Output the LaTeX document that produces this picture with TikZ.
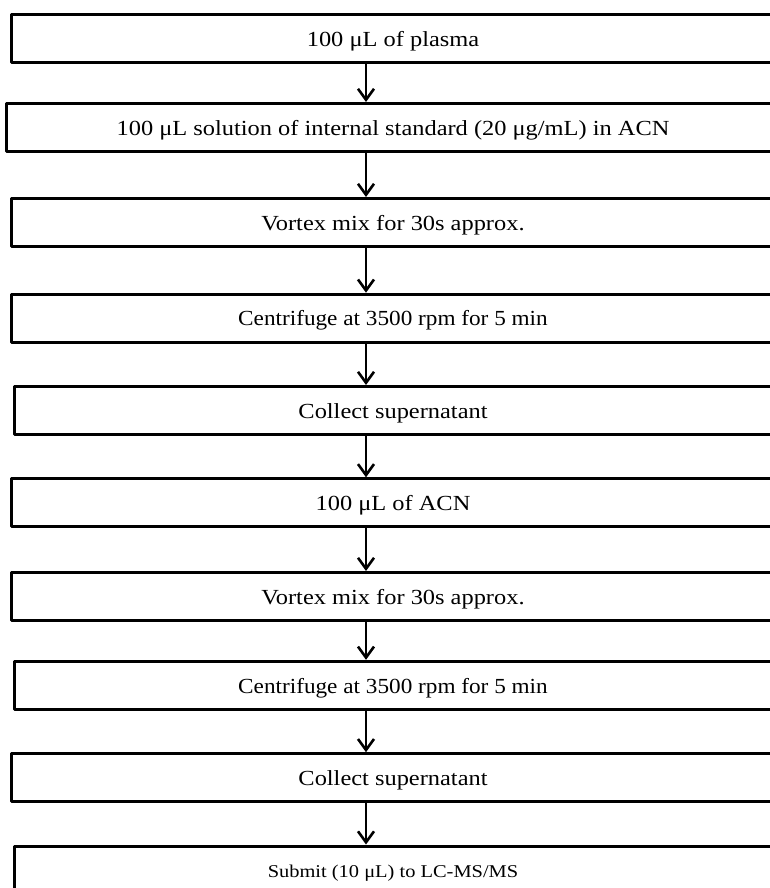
\documentclass[tikz,border=0pt]{standalone}
\usepackage{fontspec}
\usepackage{graphicx}
\setmainfont{Liberation Serif}
\usetikzlibrary{arrows.meta}

% widened step label
\newcommand{\steptext}[2][1.135]{\scalebox{#1}[1]{#2}}

\tikzset{
  stepbox/.style={draw, line width=3pt, line join=round, minimum height=48pt,
    inner sep=0pt, text height=15.4pt, text depth=0pt,
    font=\fontsize{21.5}{23}\selectfont},
  smallstep/.style={stepbox, text height=14pt, font=\fontsize{18}{20}\selectfont},
  flowarrow/.style={line width=2.6pt, -{Straight Barb[length=11pt,width=16pt]}}
}

\begin{document}
\begin{tikzpicture}[x=1pt, y=-1pt]
  \path[use as bounding box] (0,0) rectangle (770,888);
  \clip (0,0) rectangle (770,888);

  % process steps (boxes run past the right edge of the sheet)
  \node[stepbox, minimum width=763.4pt] (b1)  at (393,38.7)  {\steptext{100 μL of plasma}};
  \node[stepbox, minimum width=773.4pt] (b2)  at (393,127.5) {\steptext{100 μL solution of internal standard (20 μg/mL) in ACN}};
  \node[stepbox, minimum width=762.6pt] (b3)  at (393,222.5) {\steptext{Vortex mix for 30s approx.}};
  \node[stepbox, minimum width=762.6pt] (b4)  at (393,318.2) {\steptext[1.08]{Centrifuge at 3500 rpm for 5 min}};
  \node[stepbox, minimum width=757.4pt] (b5)  at (393,410.5) {\steptext{Collect supernatant}};
  \node[stepbox, minimum width=763.4pt] (b6)  at (393,502.8) {\steptext{100 μL of ACN}};
  \node[stepbox, minimum width=763.4pt] (b7)  at (393,596.5) {\steptext{Vortex mix for 30s approx.}};
  \node[stepbox, minimum width=757.4pt] (b8)  at (393,685.3) {\steptext[1.08]{Centrifuge at 3500 rpm for 5 min}};
  \node[stepbox, minimum width=762.6pt] (b9)  at (393,777.7) {\steptext{Collect supernatant}};
  \node[smallstep, minimum width=757.4pt] (b10) at (393,870) {\steptext{Submit (10 μL) to LC-MS/MS}};

  % vertical axis of the connectors
  \coordinate (ax) at (366,0);
  \foreach \a/\b in {b1/b2, b2/b3, b3/b4, b4/b5, b5/b6, b6/b7, b7/b8, b8/b9, b9/b10}
    \draw[flowarrow] (\a.south -| ax) -- (\b.north -| ax);
\end{tikzpicture}
\end{document}
